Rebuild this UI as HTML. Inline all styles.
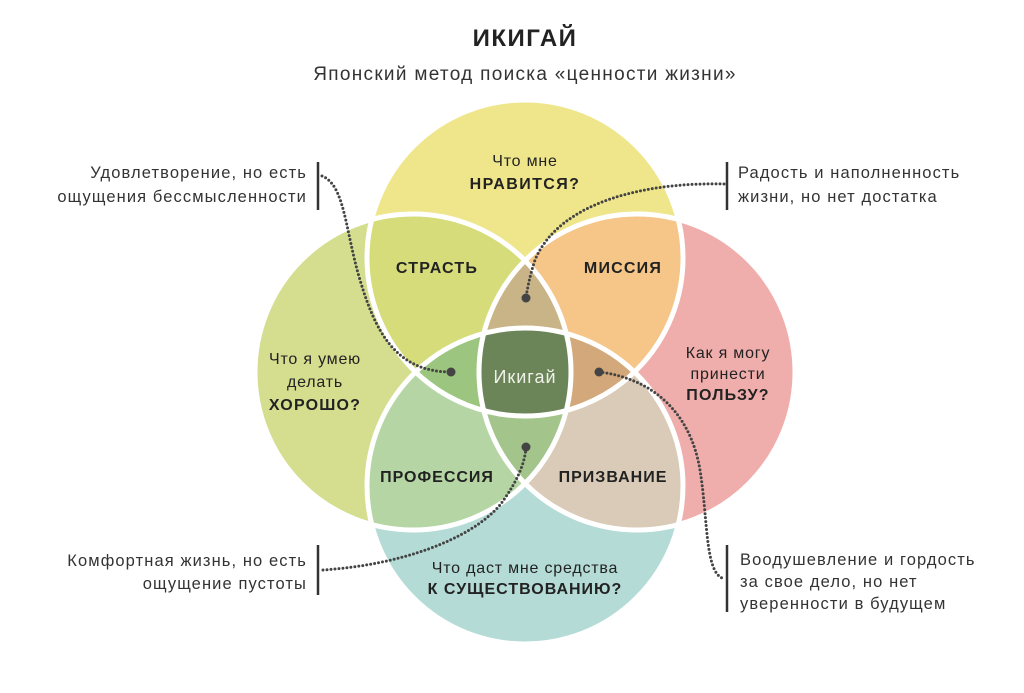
<!DOCTYPE html>
<html><head><meta charset="utf-8"><style>
html,body{margin:0;padding:0;background:#fff;}
svg{display:block;}
text{font-family:"Liberation Sans","DejaVu Sans",sans-serif;}
</style></head><body>
<svg width="1024" height="693" viewBox="0 0 1024 693" xmlns="http://www.w3.org/2000/svg">
<defs>
<clipPath id="cT"><circle cx="525" cy="258" r="158"/></clipPath>
<clipPath id="cB"><circle cx="525" cy="486" r="158"/></clipPath>
<clipPath id="cL"><circle cx="413" cy="372" r="158"/></clipPath>
<clipPath id="cR"><circle cx="637" cy="372" r="158"/></clipPath>
</defs>
<circle cx="525" cy="486" r="158" fill="#b4dbd6"/>
<circle cx="413" cy="372" r="158" fill="#d5dd8f"/>
<circle cx="637" cy="372" r="158" fill="#efaeab"/>
<circle cx="525" cy="258" r="158" fill="#efe68b"/>
<g clip-path="url(#cT)"><circle cx="413" cy="372" r="158" fill="#d5dc79"/></g>
<g clip-path="url(#cT)"><circle cx="637" cy="372" r="158" fill="#f5c687"/></g>
<g clip-path="url(#cB)"><circle cx="413" cy="372" r="158" fill="#b5d6a4"/></g>
<g clip-path="url(#cB)"><circle cx="637" cy="372" r="158" fill="#d9cbb7"/></g>
<g clip-path="url(#cT)"><g clip-path="url(#cL)"><circle cx="637" cy="372" r="158" fill="#c9b487"/></g></g>
<g clip-path="url(#cT)"><g clip-path="url(#cR)"><circle cx="525" cy="486" r="158" fill="#d3a87a"/></g></g>
<g clip-path="url(#cT)"><g clip-path="url(#cL)"><circle cx="525" cy="486" r="158" fill="#9cc57f"/></g></g>
<g clip-path="url(#cB)"><g clip-path="url(#cL)"><circle cx="637" cy="372" r="158" fill="#a3c48b"/></g></g>
<g clip-path="url(#cT)"><g clip-path="url(#cB)"><g clip-path="url(#cL)"><circle cx="637" cy="372" r="158" fill="#6b8559"/></g></g></g>
<g fill="none" stroke="#fff" stroke-width="5">
<circle cx="525" cy="258" r="158"/>
<circle cx="525" cy="486" r="158"/>
<circle cx="413" cy="372" r="158"/>
<circle cx="637" cy="372" r="158"/>
</g>
<text x="525" y="46" text-anchor="middle" font-size="24" font-weight="bold" fill="#222" letter-spacing="1.5">ИКИГАЙ</text>
<text x="525" y="80" text-anchor="middle" font-size="19" fill="#333" letter-spacing="1.3">Японский метод поиска «ценности жизни»</text>
<g fill="#222" text-anchor="middle" font-size="16" letter-spacing="0.8">
<text x="525" y="166">Что мне</text>
<text x="525" y="189" font-weight="bold" letter-spacing="1.4">НРАВИТСЯ?</text>
<text x="315" y="364">Что я умею</text>
<text x="315" y="387">делать</text>
<text x="315" y="410" font-weight="bold" letter-spacing="1.2">ХОРОШО?</text>
<text x="728" y="358">Как я могу</text>
<text x="728" y="379">принести</text>
<text x="728" y="400" font-weight="bold" letter-spacing="1.2">ПОЛЬЗУ?</text>
<text x="525" y="573">Что даст мне средства</text>
<text x="525" y="594" font-weight="bold" letter-spacing="1">К СУЩЕСТВОВАНИЮ?</text>
<text x="437" y="273" font-weight="bold" letter-spacing="1.2">СТРАСТЬ</text>
<text x="623" y="273" font-weight="bold" letter-spacing="1.2">МИССИЯ</text>
<text x="437" y="482" font-weight="bold" letter-spacing="1">ПРОФЕССИЯ</text>
<text x="613" y="482" font-weight="bold" letter-spacing="1">ПРИЗВАНИЕ</text>
</g>
<text x="525" y="383" text-anchor="middle" font-size="18" fill="#eef2e8" letter-spacing="1">Икигай</text>
<g fill="#333" font-size="16.5" letter-spacing="1.1">
<text x="307" y="178" text-anchor="end">Удовлетворение, но есть</text>
<text x="307" y="202" text-anchor="end">ощущения бессмысленности</text>
<text x="738" y="178">Радость и наполненность</text>
<text x="738" y="202">жизни, но нет достатка</text>
<text x="307" y="566" text-anchor="end">Комфортная жизнь, но есть</text>
<text x="307" y="589" text-anchor="end">ощущение пустоты</text>
<text x="740" y="565">Воодушевление и гордость</text>
<text x="740" y="587">за свое дело, но нет</text>
<text x="740" y="609">уверенности в будущем</text>
</g>
<g stroke="#333" stroke-width="2.5">
<line x1="318" y1="162" x2="318" y2="210"/>
<line x1="727" y1="162" x2="727" y2="210"/>
<line x1="318" y1="545" x2="318" y2="595"/>
<line x1="727" y1="545" x2="727" y2="612"/>
</g>
<g fill="none" stroke="#444" stroke-width="3" stroke-dasharray="0 4" stroke-linecap="round">
<path d="M322,176 C345,185 345,230 360,280 C375,330 395,372 451,372"/>
<path d="M724,184 C650,182 560,200 535,260 C530,275 527,290 526,298"/>
<path d="M323,570 C400,565 470,540 500,505 C515,485 525,465 526,447"/>
<path d="M599,372 C650,378 690,410 700,470 C708,520 705,570 722,578"/>
</g>
<g fill="#444">
<circle cx="451" cy="372" r="4.5"/>
<circle cx="526" cy="298" r="4.5"/>
<circle cx="526" cy="447" r="4.5"/>
<circle cx="599" cy="372" r="4.5"/>
</g>
</svg>
</body></html>
